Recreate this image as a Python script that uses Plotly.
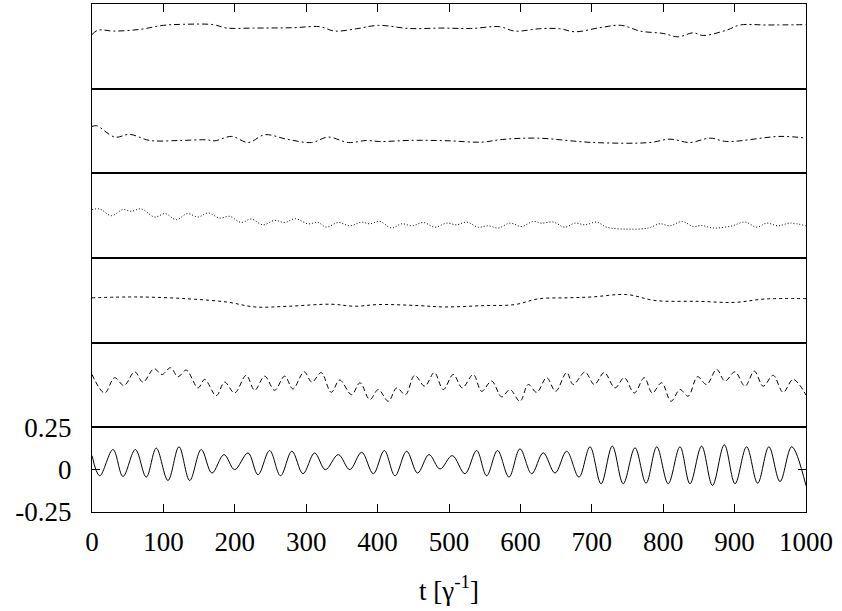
import plotly.graph_objects as go
from plotly.subplots import make_subplots

# ---- data (time t, value) ----
# panel 1 (top, dash-dot)
t_p1 = [0, 9, 30, 67, 100, 128, 170, 188.6, 226, 282, 319, 340, 370.7, 401, 445, 490, 530, 571, 592, 627, 655, 676.5, 711, 741.5, 767.5, 800, 821, 842, 856, 889, 907.6, 945, 1000]
y_p1 = [0.07, 0.096, 0.09, 0.1, 0.124, 0.13, 0.128, 0.108, 0.108, 0.11, 0.116, 0.09, 0.104, 0.124, 0.105, 0.108, 0.105, 0.116, 0.09, 0.104, 0.104, 0.086, 0.11, 0.124, 0.09, 0.076, 0.056, 0.08, 0.064, 0.096, 0.126, 0.126, 0.128]

# panel 2 (dash-dot)
t_p2 = [0, 6.5, 32, 53, 81, 123, 160.6, 172, 195.6, 219, 242, 272.5, 307.5, 331, 359, 384.6, 403, 450, 500, 545, 575, 622.8, 702, 781.5, 809.5, 837.5, 865.5, 889, 963.6, 1000]
y_p2 = [0.027, 0.031, -0.036, -0.02, -0.056, -0.056, -0.052, -0.058, -0.032, -0.068, -0.022, -0.048, -0.068, -0.036, -0.068, -0.056, -0.062, -0.055, -0.058, -0.066, -0.05, -0.042, -0.068, -0.068, -0.048, -0.068, -0.042, -0.062, -0.032, -0.042]

# panel 3 (dotted)
t_p3 = [0, 10.8, 27, 43.4, 55, 69, 87.8, 102.7, 118, 133.5, 148.5, 162.5, 178.7, 192.7, 209, 223, 239.5, 255.8, 269.8, 284.8, 302.5, 316.5, 328,
        345, 361, 377.7, 389, 403, 419.6, 433.7, 448.6, 464, 480.4, 496.8, 510.8, 524.8, 541, 555, 569, 585.4, 601.8, 618, 629.8, 646, 662.5,
        676.5, 690.5, 706.8, 720.8, 751, 779, 795.5, 809.5, 826.7, 842, 853.8, 870, 895, 914.6, 931, 945, 961, 977.6, 1000]
y_p3 = [0.036, 0.04, 0.0, 0.036, 0.026, 0.04, -0.008, 0.012, -0.024, 0.012, -0.008, 0.016, -0.014, -0.004, -0.04, -0.02, -0.054, -0.028, -0.04, -0.018, -0.048, -0.04, -0.068,
        -0.04, -0.06, -0.038, -0.048, -0.034, -0.073, -0.048, -0.06, -0.04, -0.068, -0.044, -0.054, -0.038, -0.068, -0.06, -0.073, -0.044, -0.064, -0.034, -0.044, -0.038, -0.068,
        -0.044, -0.054, -0.038, -0.068, -0.08, -0.073, -0.048, -0.06, -0.034, -0.064, -0.058, -0.073, -0.062, -0.038, -0.068, -0.044, -0.06, -0.044, -0.06]

# panel 4 (short dashes)
t_p4 = [0, 64.4, 134.5, 190.5, 227.8, 274.5, 335, 368, 401, 457, 494, 550, 592.4, 625, 667, 700, 749, 788.5, 849, 900.6, 942.6, 1000]
y_p4 = [0.015, 0.02, 0.009, -0.011, -0.039, -0.035, -0.023, -0.035, -0.025, -0.031, -0.039, -0.031, -0.025, 0.009, 0.015, 0.02, 0.034, -0.001, -0.006, -0.012, 0.008, 0.01]

# panel 5 (dashed)
t_p5 = [0, 17.7, 31.7, 44.8, 59.8, 71.4, 86.8, 98, 110, 120.4, 132, 148.5, 157.8, 174, 185.7, 199.8, 216, 227.8, 241.8, 255.8, 269.8, 281.5, 297, 308, 321, 335,
        347, 363.6, 375.4, 389, 401, 415, 426.8, 439, 452, 466, 479.5, 492, 506, 518.6, 534, 545.7, 559.7, 573.7, 585.4, 599.4, 611, 622.8, 636.8, 649.4, 664.8,
        674, 690.5, 703.5, 717.5, 732.5, 745.5, 759.5, 773.5, 784.7, 797.8, 811, 823.5, 835, 848, 860.8, 874.8, 886.5, 900.5, 914.6, 927.6, 940, 954, 968, 982, 1000]
y_p5 = [0.062, -0.047, 0.043, -0.003, 0.078, 0.017, 0.096, 0.062, 0.102, 0.049, 0.088, -0.017, 0.033, -0.063, 0.017, -0.047, 0.057, -0.031, 0.052, -0.031, 0.052, -0.023, 0.078, 0.017, 0.073, -0.043,
        0.029, -0.057, 0.013, -0.086, -0.027, -0.096, -0.017, -0.057, 0.057, -0.007, 0.073, -0.027, 0.062, -0.017, 0.062, -0.037, 0.023, -0.07, -0.027, -0.096, 0.003, -0.043, 0.043, -0.037, 0.073,
        0.003, 0.076, 0.003, 0.073, -0.017, 0.043, -0.047, 0.043, -0.047, 0.013, -0.096, -0.027, -0.066, 0.049, 0.003, 0.092, 0.023, 0.078, -0.007, 0.082, -0.007, 0.057, -0.043, 0.033, -0.06]

# panel 6 (bottom, solid)
t_p6 = [0, 10.8, 29.4, 43.4, 60.7, 76, 90, 106.4, 121.8, 136.8, 153, 168, 184.9, 199.8, 218.5, 232.5, 248.8, 264, 280, 295.5, 311.8, 326.8,
        345, 361, 377.7, 394, 409.4, 424.4, 440.7, 456, 472, 487.4, 504.6, 522.4, 538.7, 552.7, 568, 584, 599.4, 615.8, 632, 648.5, 664.8,
        682, 697.5, 713, 728.7, 744, 760.5, 776, 791, 807, 823.5, 837.5, 853.8, 869, 885.6, 900.6, 916.8, 932.3, 948, 963.6, 980, 1000]
y_p6 = [0.083, -0.036, 0.119, -0.04, 0.119, -0.044, 0.127, -0.064, 0.135, -0.064, 0.119, -0.02, 0.089, 0.0, 0.099, -0.03, 0.113, -0.036, 0.109, -0.024, 0.099, 0.0,
        0.089, 0.0, 0.103, -0.024, 0.113, -0.036, 0.109, -0.02, 0.089, 0.004, 0.083, -0.024, 0.113, -0.036, 0.113, -0.044, 0.123, -0.024, 0.099, -0.02, 0.109,
        -0.044, 0.135, -0.083, 0.139, -0.083, 0.129, -0.08, 0.135, -0.083, 0.135, -0.083, 0.139, -0.093, 0.147, -0.083, 0.135, -0.08, 0.135, -0.07, 0.135, -0.095]

x_ticks = [0, 100, 200, 300, 400, 500, 600, 700, 800, 900, 1000]
x_ticklabels = ["0", "100", "200", "300", "400", "500", "600", "700", "800", "900", "1000"]
y_ticks = [-0.25, 0, 0.25]
y_ticklabels = ["-0.25", "0", "0.25"]

panels = [
    (t_p1, y_p1, "6px,3px,2px,3px"),
    (t_p2, y_p2, "6px,3px,2px,3px"),
    (t_p3, y_p3, "1px,2px"),
    (t_p4, y_p4, "3px,3px"),
    (t_p5, y_p5, "5px,3px"),
    (t_p6, y_p6, "solid"),
]

fig = make_subplots(rows=6, cols=1, shared_xaxes=True, vertical_spacing=0)

for i, (tt, yy, dash) in enumerate(panels, start=1):
    fig.add_trace(go.Scatter(x=tt, y=yy, mode="lines",
                             line=dict(color="black", width=1, dash=dash, shape="spline", smoothing=1.0),
                             showlegend=False, hoverinfo="skip"), row=i, col=1)
    fig.update_yaxes(range=[-0.25, 0.25], showline=True, linecolor="black", linewidth=1,
                     mirror=True, showgrid=False, zeroline=False, ticks="",
                     showticklabels=False, automargin=False, row=i, col=1)
    fig.update_xaxes(range=[0, 1000], showline=True, linecolor="black", linewidth=1,
                     mirror=True, showgrid=False, zeroline=False, ticks="",
                     showticklabels=False, automargin=False, row=i, col=1)

font_main = dict(family="Liberation Serif, Times New Roman, serif", size=27, color="black")

# top axis ticks
fig.update_xaxes(side="top", ticks="inside", ticklen=8, tickcolor="black", tickwidth=1,
                 tickvals=x_ticks, showticklabels=False, row=1, col=1)
# bottom axis
fig.update_xaxes(ticks="inside", ticklen=8, tickcolor="black", tickwidth=1,
                 tickvals=x_ticks, ticktext=x_ticklabels, showticklabels=True,
                 tickfont=font_main, ticklabelstandoff=6,
                 title=dict(text="t [γ<sup>-1</sup>]", font=font_main, standoff=24),
                 row=6, col=1)
fig.update_yaxes(ticks="inside", ticklen=8, tickcolor="black", tickwidth=1,
                 mirror="ticks", tickvals=y_ticks, ticktext=y_ticklabels,
                 showticklabels=True, tickfont=font_main, ticklabelstandoff=14,
                 row=6, col=1)

fig.update_layout(width=842, height=611, margin=dict(l=92, r=36, t=4, b=99),
                  paper_bgcolor="white", plot_bgcolor="white",
                  font=font_main)

fig.write_html("out.html")
